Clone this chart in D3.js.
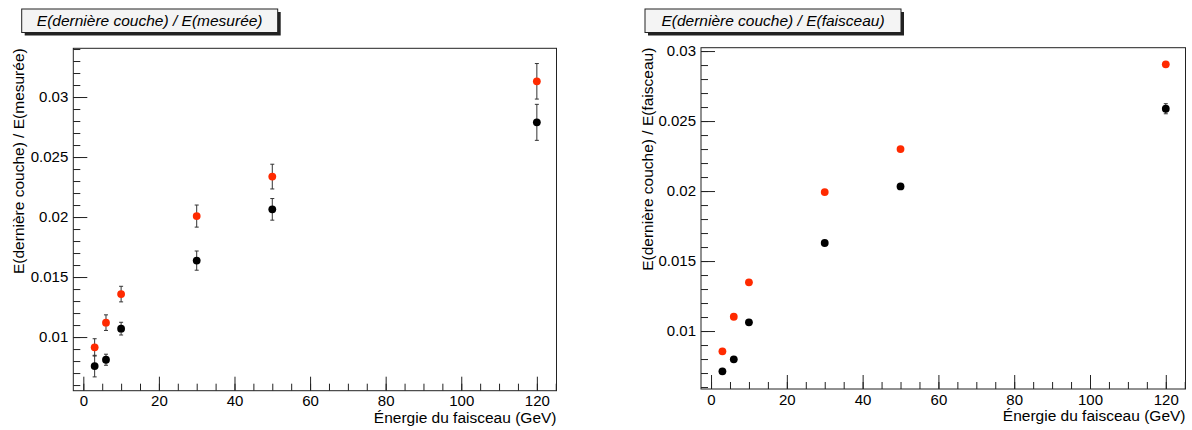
<!DOCTYPE html>
<html><head><meta charset="utf-8">
<script src="https://cdn.jsdelivr.net/npm/d3@7"></script>
<style>
body{margin:0;background:#fff}
svg text{font-family:"Liberation Sans",Arial,Helvetica,sans-serif;fill:#000}
</style>
</head><body>
<svg id="c" width="1192" height="430"></svg>
<script>
// ---- data ----
const energies = [3, 6, 10, 30, 50, 120];
// left panel: E(dernière couche) / E(mesurée)
const mesBlack    = [0.00758, 0.00811, 0.01070, 0.01637, 0.02064, 0.02789];
const mesBlackErr = [0.00090, 0.00046, 0.00053, 0.00080, 0.00090, 0.00150];
const mesRed      = [0.00914, 0.01120, 0.01358, 0.02008, 0.02337, 0.03131];
const mesRedErr   = [0.00072, 0.00065, 0.00065, 0.00092, 0.00103, 0.00148];
// right panel: E(dernière couche) / E(faisceau)
const faiBlack    = [0.00712, 0.00798, 0.01062, 0.01629, 0.02033, 0.02588];
const faiBlackErr = [0.00005, 0.00005, 0.00005, 0.00008, 0.00010, 0.00036];
const faiRed      = [0.00855, 0.01102, 0.01348, 0.01993, 0.02300, 0.02905];
const faiRedErr   = [0.00005, 0.00005, 0.00005, 0.00008, 0.00010, 0.00015];
const xTickLabels = ["0", "20", "40", "60", "80", "100", "120"];
const yTickLabels = ["0.01", "0.015", "0.02", "0.025", "0.03"];
const titles = ["E(dernière couche) / E(mesurée)", "E(dernière couche) / E(faisceau)"];
const xTitle = "Énergie du faisceau (GeV)";

// ---- layout ----
const panels = [
  {x0:73.3, x1:556.5, y0:48.3, y1:390.7, yDom:[0.00553, 0.03406], box:[21.7, 9, 256, 23.5], ytx:18.5,
   title:titles[0], series:[[mesBlack, mesBlackErr, "#000"], [mesRed, mesRedErr, "#ff2a00"]]},
  {x0:701, x1:1185.5, y0:47.7, y1:389, yDom:[0.00586, 0.03024], box:[645, 9, 256, 23.5], ytx:648,
   title:titles[1], series:[[faiBlack, faiBlackErr, "#000"], [faiRed, faiRedErr, "#ff2a00"]]}
];
const xDom = [-2.65, 125.2];

const svg = d3.select("#c");

panels.forEach(p => {
  const g = svg.append("g");
  const x = d3.scaleLinear().domain(xDom).range([p.x0, p.x1]);
  const y = d3.scaleLinear().domain(p.yDom).range([p.y1, p.y0]);

  // minor ticks
  const xMinor = d3.range(0, 125.01, 5);
  const yMinor = d3.range(0.006, p.yDom[1] + 1e-9, 0.001).filter(v => v >= p.yDom[0]);
  g.append("g").attr("transform", `translate(0,${p.y1})`)
    .call(d3.axisBottom(x).tickValues(xMinor).tickSize(-7).tickSizeOuter(0).tickFormat(""))
    .call(a => a.select(".domain").remove())
    .selectAll("line").attr("stroke", "#222");
  g.append("g").attr("transform", `translate(${p.x0},0)`)
    .call(d3.axisLeft(y).tickValues(yMinor).tickSize(-7).tickSizeOuter(0).tickFormat(""))
    .call(a => a.select(".domain").remove())
    .selectAll("line").attr("stroke", "#222");

  // major ticks + labels
  const xa = g.append("g").attr("transform", `translate(0,${p.y1})`)
    .call(d3.axisBottom(x).tickValues(xTickLabels.map(Number)).tickSize(-14).tickSizeOuter(0)
      .tickPadding(5).tickFormat((d, i) => xTickLabels[i]));
  xa.select(".domain").remove();
  xa.selectAll("line").attr("stroke", "#222");
  xa.selectAll("text").style("font-size", "15px").attr("fill", "#000");

  const ya = g.append("g").attr("transform", `translate(${p.x0},0)`)
    .call(d3.axisLeft(y).tickValues(yTickLabels.map(Number)).tickSize(-14).tickSizeOuter(0)
      .tickPadding(5).tickFormat((d, i) => yTickLabels[i]));
  ya.select(".domain").remove();
  ya.selectAll("line").attr("stroke", "#222");
  ya.selectAll("text").style("font-size", "15px").attr("fill", "#000");

  // frame
  g.append("rect").attr("x", p.x0).attr("y", p.y0)
    .attr("width", p.x1 - p.x0).attr("height", p.y1 - p.y0)
    .attr("fill", "none").attr("stroke", "#222").attr("stroke-width", 1);

  // axis titles
  g.append("text").attr("x", p.x1).attr("y", p.y1 + 32)
    .attr("text-anchor", "end").style("font-size", "15.5px").text(xTitle);
  g.append("text").attr("transform", `translate(${p.ytx},${p.y0}) rotate(-90)`)
    .attr("text-anchor", "end").attr("dy", "0.35em").style("font-size", "15.5px").text(p.title);

  // data: error bars then markers
  p.series.forEach(([vals, errs, col]) => {
    const pts = energies.map((e, i) => ({e, v: vals[i], err: errs[i]}));
    const eg = g.append("g").attr("stroke", "#333").attr("stroke-width", 1);
    pts.forEach(d => {
      const cx = x(d.e), yt = y(d.v + d.err), yb = y(d.v - d.err);
      eg.append("line").attr("x1", cx).attr("x2", cx).attr("y1", yt).attr("y2", yb);
      eg.append("line").attr("x1", cx - 2).attr("x2", cx + 2).attr("y1", yt).attr("y2", yt);
      eg.append("line").attr("x1", cx - 2).attr("x2", cx + 2).attr("y1", yb).attr("y2", yb);
    });
    g.append("g").selectAll("circle").data(pts).join("circle")
      .attr("cx", d => x(d.e)).attr("cy", d => y(d.v)).attr("r", 3.9).attr("fill", col);
  });

  // title box with shadow
  const [bx, by, bw, bh] = p.box;
  g.append("rect").attr("x", bx + 3).attr("y", by + 3).attr("width", bw).attr("height", bh).attr("fill", "#222");
  g.append("rect").attr("x", bx).attr("y", by).attr("width", bw).attr("height", bh)
    .attr("fill", "#f4f4f4").attr("stroke", "#222").attr("stroke-width", 1);
  g.append("text").attr("x", bx + bw / 2).attr("y", by + bh / 2).attr("dy", "0.35em")
    .attr("text-anchor", "middle").style("font-size", "15.5px").style("font-style", "italic")
    .text(p.title);
});
</script>
</body></html>
